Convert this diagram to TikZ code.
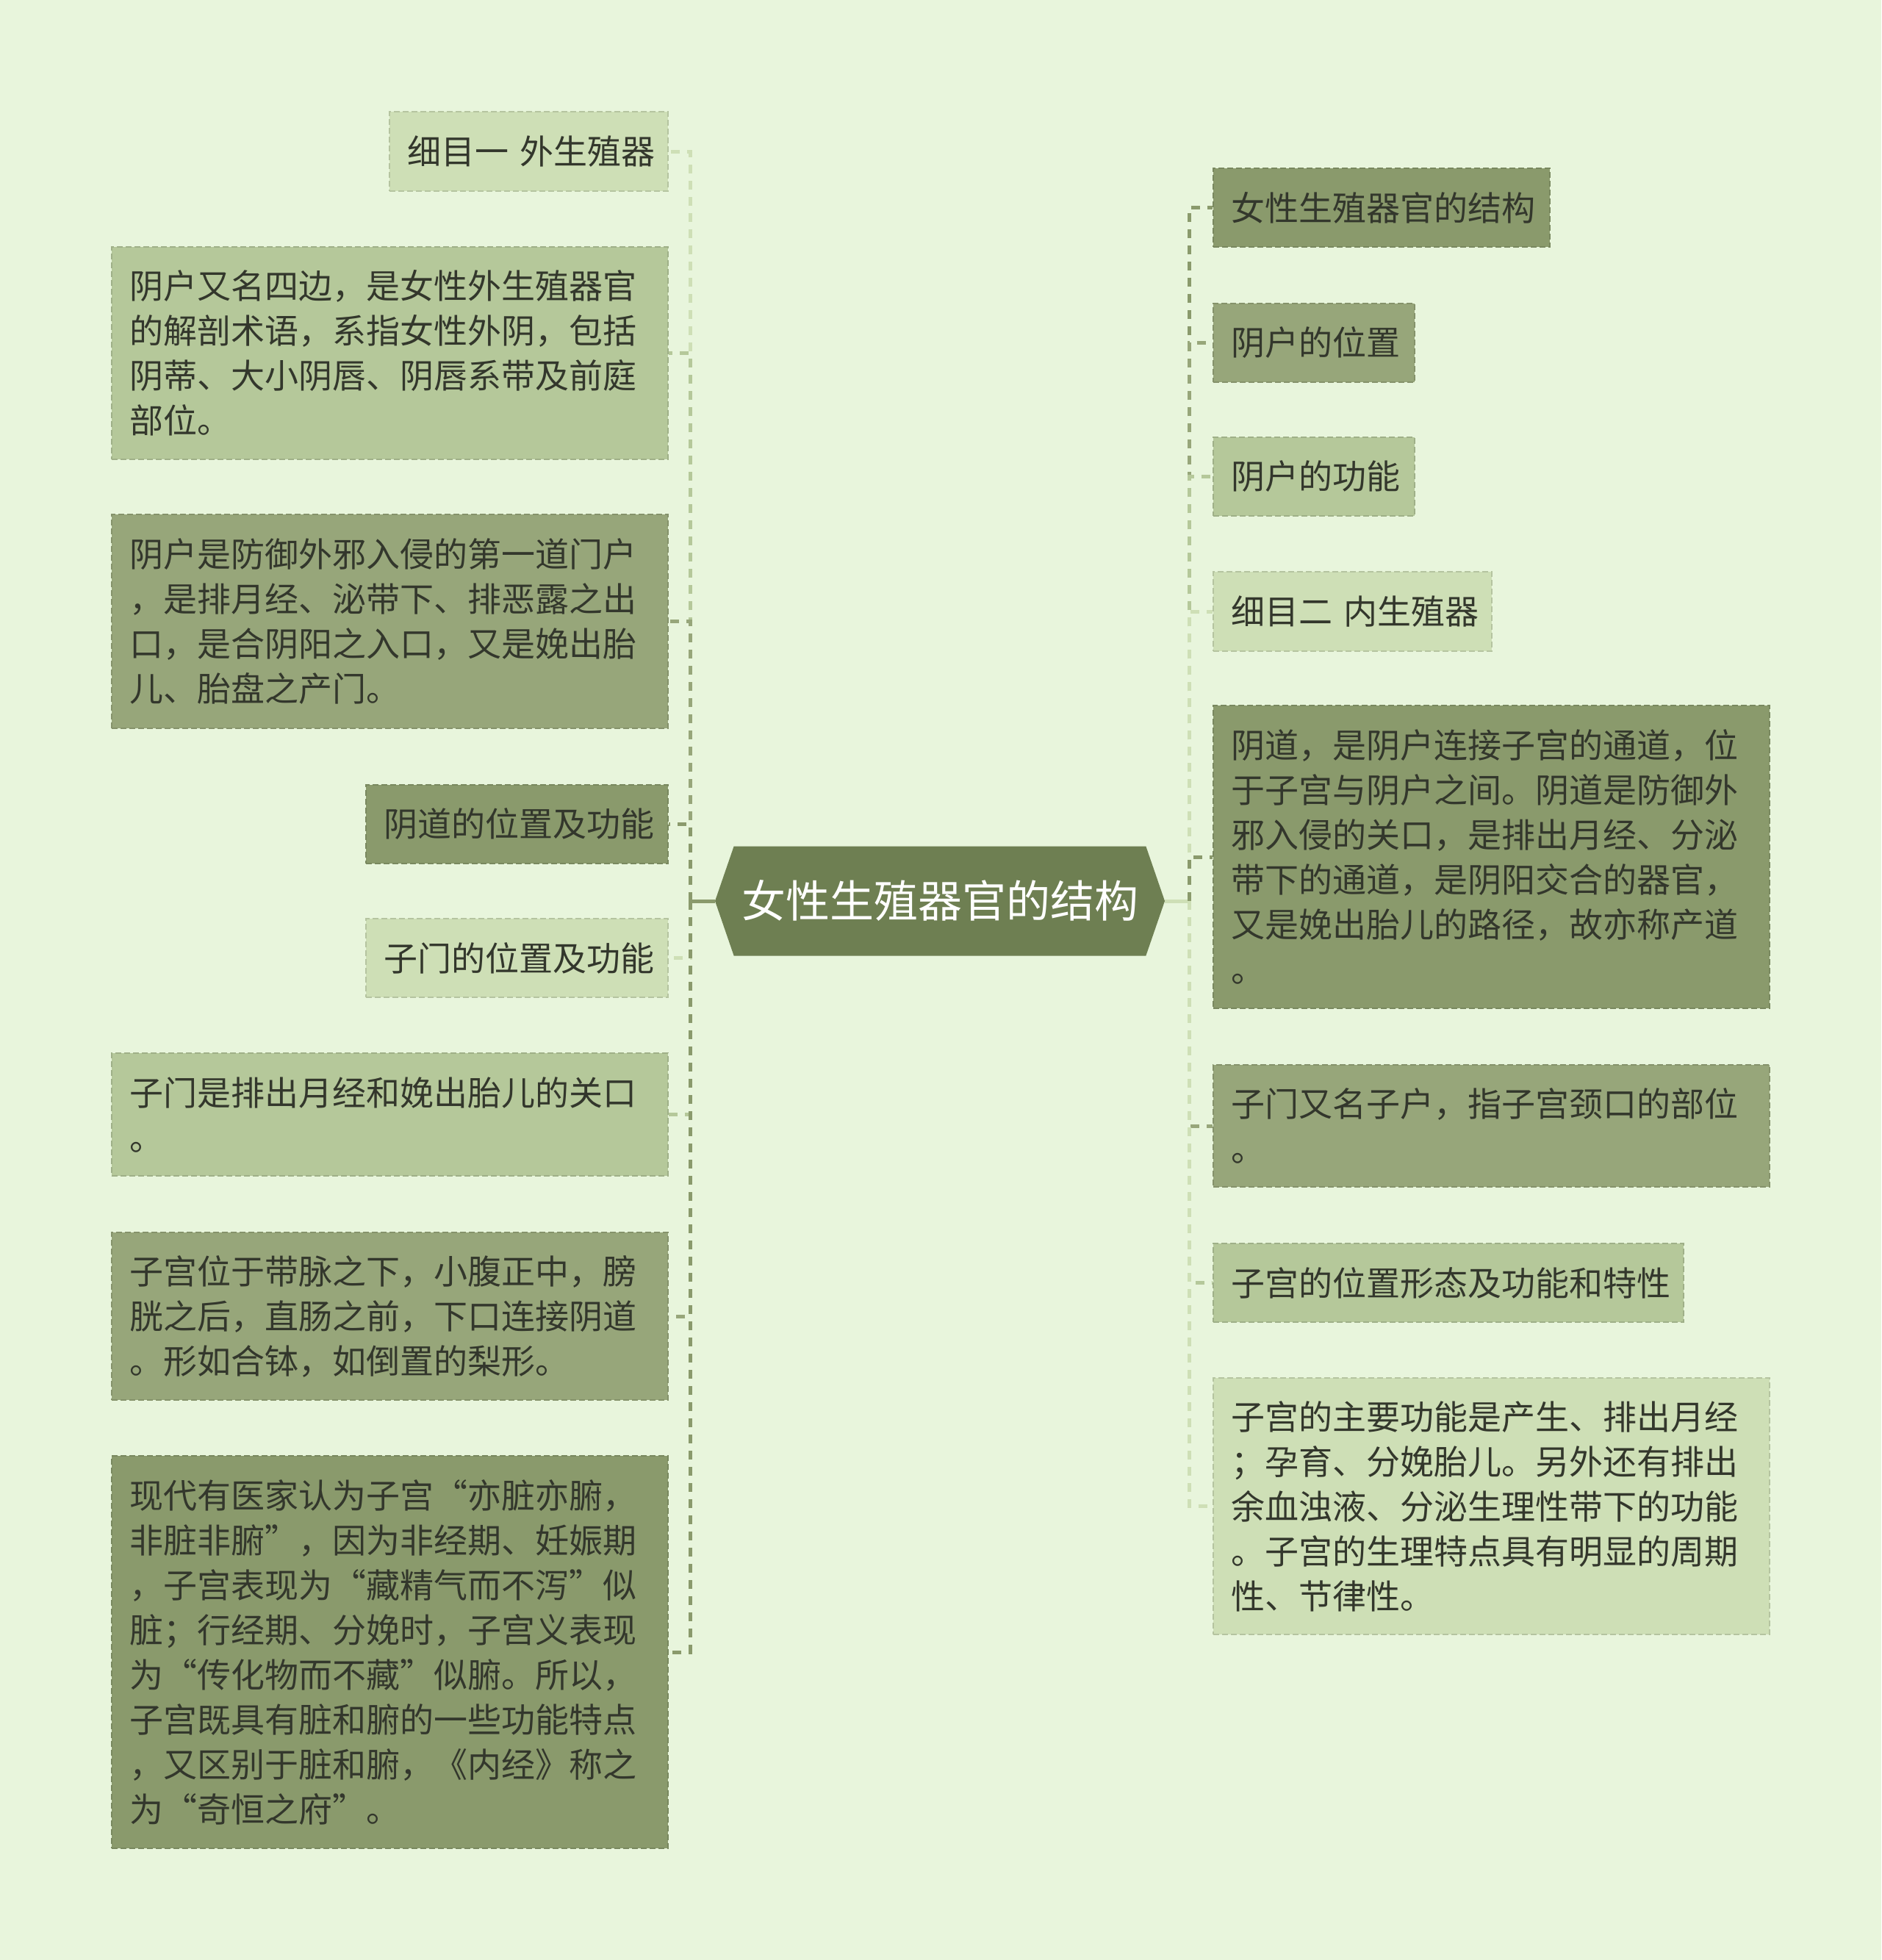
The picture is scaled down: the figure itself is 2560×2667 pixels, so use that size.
\documentclass[tikz,border=0pt]{standalone}
\usepackage{fontspec}
\newfontfamily\cjk{Noto Sans CJK SC}
\usetikzlibrary{shapes.symbols}
\definecolor{bg}{HTML}{E8F5DC}
\definecolor{cmain}{HTML}{6E7F52}
\definecolor{ca}{HTML}{8A9A6C}
\definecolor{cb}{HTML}{97A67A}
\definecolor{cc}{HTML}{B5C89A}
\definecolor{cd}{HTML}{CEDFB6}
\definecolor{txt}{HTML}{33372C}
\tikzset{
  box/.style={fill=#1, draw=#1!88!black, line width=2pt, dash pattern=on 8pt off 4pt,
    anchor=north west, align=left, inner xsep=24pt, inner ysep=0pt, text=txt,
    font=\cjk\fontsize{46}{61}\selectfont},
  conn/.style={line width=5pt, dash pattern=on 12pt off 10pt},
  stub/.style={line width=5pt},
  hub/.style={signal, signal to=west and east, signal pointer angle=142, fill=cmain,
    minimum width=612pt, minimum height=149pt, inner sep=0pt, text=white,
    font=\cjk\fontsize{60}{70}\selectfont}
}
\begin{document}
\begin{tikzpicture}[x=1pt,y=-1pt]
\fill[bg] (0,0) rectangle (2560,2667);
\useasboundingbox (0,0) rectangle (2560,2667);

\node[hub] (c) at (1279,1226) {女性生殖器官的结构};
\coordinate (cl) at (939,1226);
\coordinate (cr) at (1618,1226);

% left children
\node[box=cd, text width=331pt, minimum height=108pt] (L1) at (529,151) {\mbox{细目一 外生殖器}};
\node[box=cc, text width=709pt, minimum height=289pt] (L2) at (151,335) {阴户又名四边，是女性外生殖器官\\的解剖术语，系指女性外阴，包括\\阴蒂、大小阴唇、阴唇系带及前庭\\部位。};
\node[box=cb, text width=709pt, minimum height=291pt] (L3) at (151,699) {阴户是防御外邪入侵的第一道门户\\，是排月经、泌带下、排恶露之出\\口，是合阴阳之入口，又是娩出胎\\儿、胎盘之产门。};
\node[box=ca, text width=363pt, minimum height=107pt] (L4) at (497,1067) {阴道的位置及功能};
\node[box=cd, text width=363pt, minimum height=107pt] (L5) at (497,1249) {子门的位置及功能};
\node[box=cc, text width=709pt, minimum height=167pt] (L6) at (151,1432) {子门是排出月经和娩出胎儿的关口\\。};
\node[box=cb, text width=709pt, minimum height=228pt] (L7) at (151,1676) {子宫位于带脉之下，小腹正中，膀\\胱之后，直肠之前，下口连接阴道\\。形如合钵，如倒置的梨形。};
\node[box=ca, text width=709pt, minimum height=534pt] (L8) at (151,1980) {现代有医家认为子宫“亦脏亦腑，\\非脏非腑”，因为非经期、妊娠期\\，子宫表现为“藏精气而不泻”似\\脏；行经期、分娩时，子宫义表现\\为“传化物而不藏”似腑。所以，\\子宫既具有脏和腑的一些功能特点\\，又区别于脏和腑，《内经》称之\\为“奇恒之府”。};

% right children
\node[box=ca, text width=410pt, minimum height=107pt] (R1) at (1650,228) {女性生殖器官的结构};
\node[box=cb, text width=226pt, minimum height=107pt] (R2) at (1650,412) {阴户的位置};
\node[box=cc, text width=226pt, minimum height=107pt] (R3) at (1650,594) {阴户的功能};
\node[box=cd, text width=331pt, minimum height=108pt] (R4) at (1650,777) {\mbox{细目二 内生殖器}};
\node[box=ca, text width=709pt, minimum height=412pt] (R5) at (1650,959) {阴道，是阴户连接子宫的通道，位\\于子宫与阴户之间。阴道是防御外\\邪入侵的关口，是排出月经、分泌\\带下的通道，是阴阳交合的器官，\\又是娩出胎儿的路径，故亦称产道\\。};
\node[box=cb, text width=709pt, minimum height=166pt] (R6) at (1650,1448) {子门又名子户，指子宫颈口的部位\\。};
\node[box=cc, text width=592pt, minimum height=107pt] (R7) at (1650,1691) {子宫的位置形态及功能和特性};
\node[box=cd, text width=709pt, minimum height=349pt] (R8) at (1650,1874) {子宫的主要功能是产生、排出月经\\；孕育、分娩胎儿。另外还有排出\\余血浊液、分泌生理性带下的功能\\。子宫的生理特点具有明显的周期\\性、节律性。};

% connectors
\draw[stub, ca] (c.west) -- (cl);
\draw[stub, cd] (c.east) -- (cr);
\draw[conn, cd] (cl) |- (L1.east);
\draw[conn, cc] (cl) |- (L2.east);
\draw[conn, cb] (cl) |- (L3.east);
\draw[conn, ca] (cl) |- (L4.east);
\draw[conn, cd] (cl) |- (L5.east);
\draw[conn, cc] (cl) |- (L6.east);
\draw[conn, cb] (cl) |- (L7.east);
\draw[conn, ca] (cl) |- (L8.east);
\draw[conn, ca] (cr) |- (R1.west);
\draw[conn, cb] (cr) |- (R2.west);
\draw[conn, cc] (cr) |- (R3.west);
\draw[conn, cd] (cr) |- (R4.west);
\draw[conn, ca] (cr) |- (R5.west);
\draw[conn, cb] (cr) |- (R6.west);
\draw[conn, cc] (cr) |- (R7.west);
\draw[conn, cd] (cr) |- (R8.west);
\end{tikzpicture}
\end{document}
